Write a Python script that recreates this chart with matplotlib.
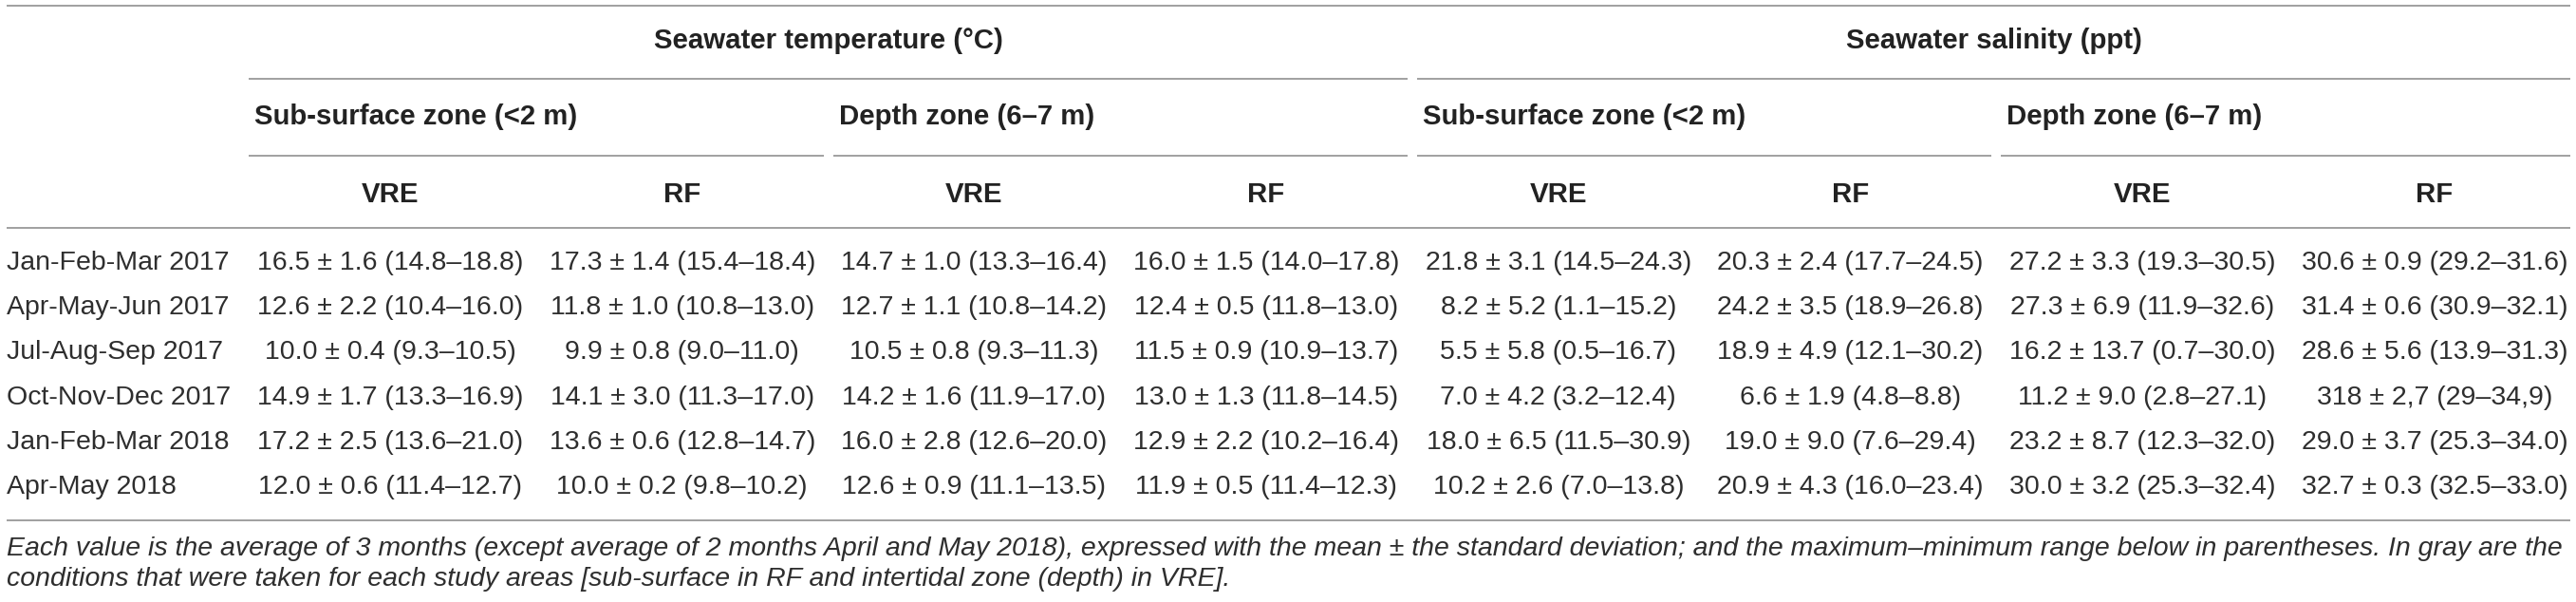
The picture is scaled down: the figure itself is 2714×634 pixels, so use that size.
import matplotlib.pyplot as plt

plt.rcParams['font.family'] = ['Liberation Sans', 'DejaVu Sans']

# rows of the table
periods = ['Jan-Feb-Mar 2017', 'Apr-May-Jun 2017', 'Jul-Aug-Sep 2017',
           'Oct-Nov-Dec 2017', 'Jan-Feb-Mar 2018', 'Apr-May 2018']

groups = ['Seawater temperature (°C)', 'Seawater salinity (ppt)']
zones = ['Sub-surface zone (<2 m)', 'Depth zone (6–7 m)']
sites = ['VRE', 'RF']

# temperature, sub-surface, VRE / RF
temp_sub_vre = ['16.5 ± 1.6 (14.8–18.8)', '12.6 ± 2.2 (10.4–16.0)', '10.0 ± 0.4 (9.3–10.5)',
                '14.9 ± 1.7 (13.3–16.9)', '17.2 ± 2.5 (13.6–21.0)', '12.0 ± 0.6 (11.4–12.7)']
temp_sub_rf = ['17.3 ± 1.4 (15.4–18.4)', '11.8 ± 1.0 (10.8–13.0)', '9.9 ± 0.8 (9.0–11.0)',
               '14.1 ± 3.0 (11.3–17.0)', '13.6 ± 0.6 (12.8–14.7)', '10.0 ± 0.2 (9.8–10.2)']
# temperature, depth, VRE / RF
temp_dep_vre = ['14.7 ± 1.0 (13.3–16.4)', '12.7 ± 1.1 (10.8–14.2)', '10.5 ± 0.8 (9.3–11.3)',
                '14.2 ± 1.6 (11.9–17.0)', '16.0 ± 2.8 (12.6–20.0)', '12.6 ± 0.9 (11.1–13.5)']
temp_dep_rf = ['16.0 ± 1.5 (14.0–17.8)', '12.4 ± 0.5 (11.8–13.0)', '11.5 ± 0.9 (10.9–13.7)',
               '13.0 ± 1.3 (11.8–14.5)', '12.9 ± 2.2 (10.2–16.4)', '11.9 ± 0.5 (11.4–12.3)']
# salinity, sub-surface, VRE / RF
sal_sub_vre = ['21.8 ± 3.1 (14.5–24.3)', '8.2 ± 5.2 (1.1–15.2)', '5.5 ± 5.8 (0.5–16.7)',
               '7.0 ± 4.2 (3.2–12.4)', '18.0 ± 6.5 (11.5–30.9)', '10.2 ± 2.6 (7.0–13.8)']
sal_sub_rf = ['20.3 ± 2.4 (17.7–24.5)', '24.2 ± 3.5 (18.9–26.8)', '18.9 ± 4.9 (12.1–30.2)',
              '6.6 ± 1.9 (4.8–8.8)', '19.0 ± 9.0 (7.6–29.4)', '20.9 ± 4.3 (16.0–23.4)']
# salinity, depth, VRE / RF
sal_dep_vre = ['27.2 ± 3.3 (19.3–30.5)', '27.3 ± 6.9 (11.9–32.6)', '16.2 ± 13.7 (0.7–30.0)',
               '11.2 ± 9.0 (2.8–27.1)', '23.2 ± 8.7 (12.3–32.0)', '30.0 ± 3.2 (25.3–32.4)']
sal_dep_rf = ['30.6 ± 0.9 (29.2–31.6)', '31.4 ± 0.6 (30.9–32.1)', '28.6 ± 5.6 (13.9–31.3)',
              '318 ± 2,7 (29–34,9)', '29.0 ± 3.7 (25.3–34.0)', '32.7 ± 0.3 (32.5–33.0)']

columns = [temp_sub_vre, temp_sub_rf, temp_dep_vre, temp_dep_rf,
           sal_sub_vre, sal_sub_rf, sal_dep_vre, sal_dep_rf]

note = ('Each value is the average of 3 months (except average of 2 months April and May 2018), '
        'expressed with the mean ± the standard deviation; and the maximum–minimum range below in '
        'parentheses. In gray are the\nconditions that were taken for each study areas '
        '[sub-surface in RF and intertidal zone (depth) in VRE].')

W, H = 2714, 634
fig = plt.figure(figsize=(W / 100, H / 100), dpi=100)
ax = fig.add_axes([0, 0, 1, 1])
ax.set_xlim(0, W)
ax.set_ylim(H, 0)
ax.axis('off')

line_col = '#a0a0a0'
txt_col = '#2e2e2e'
head_col = '#222222'
fs = 20.5
fs_head = 21.2

left = 7
right = 2708
col_w = 307.7
first_c = 411
centers = [first_c + col_w * i for i in range(8)]
edges = [first_c - col_w / 2 + col_w * i for i in range(9)]
gap = 5

row_y0 = 277
row_h = 47.2

# horizontal rules
for yy in (6, 240, 548):
    ax.plot([left, right], [yy, yy], color=line_col, lw=1.4, solid_capstyle='butt')

# group and zone headers
for g, name in enumerate(groups):
    x0 = edges[4 * g] + gap
    x1 = right if g == 1 else edges[4 * g + 4] - gap
    ax.plot([x0, x1], [83, 83], color=line_col, lw=1.4, solid_capstyle='butt')
    ax.text((x0 + x1) / 2, 43, name, ha='center', va='center',
            fontsize=fs_head, fontweight='bold', color=head_col)
    for z, zname in enumerate(zones):
        k = 4 * g + 2 * z
        zx0 = edges[k] + gap
        zx1 = right if k + 2 == 8 else edges[k + 2] - gap
        ax.plot([zx0, zx1], [164, 164], color=line_col, lw=1.4, solid_capstyle='butt')
        ax.text(zx0 + 6, 123, zname, ha='left', va='center',
                fontsize=fs_head, fontweight='bold', color=head_col)

# site headers
for i, cx in enumerate(centers):
    ax.text(cx, 205, sites[i % 2], ha='center', va='center',
            fontsize=fs_head, fontweight='bold', color=head_col)

# body
for r, p in enumerate(periods):
    y = row_y0 + row_h * r
    ax.text(left, y, p, ha='left', va='center', fontsize=fs, color=txt_col)
    for c, vals in enumerate(columns):
        ax.text(centers[c], y, vals[r], ha='center', va='center',
                fontsize=fs, color=txt_col)

ax.text(left, 594, note, ha='left', va='center', fontsize=20.5,
        style='italic', color=txt_col, linespacing=1.3)

fig.savefig('out.png', dpi=100)
